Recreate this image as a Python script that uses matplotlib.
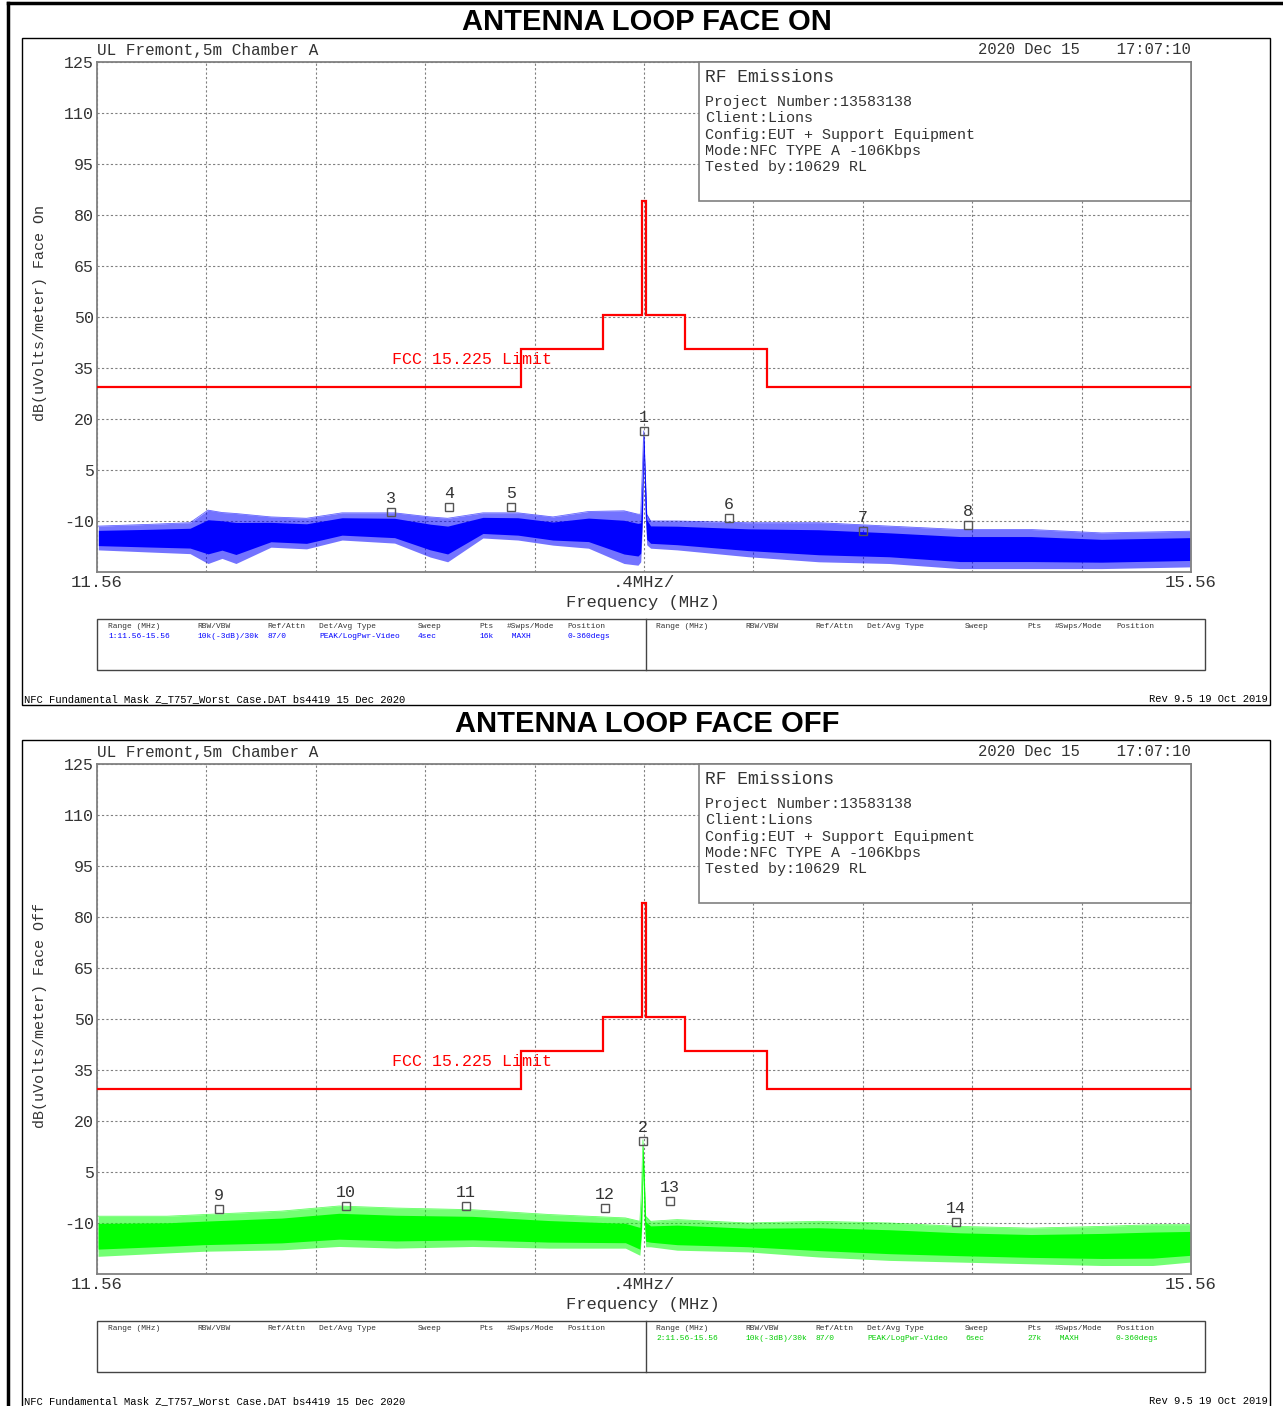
import numpy as np
import matplotlib
matplotlib.use("Agg")
import matplotlib.pyplot as plt
from matplotlib.patches import Rectangle

plt.rcParams['font.family'] = ['Liberation Mono', 'DejaVu Sans Mono']

W, H = 1283, 1406

# ---------------- data ----------------
f_start, f_stop = 11.56, 15.56

# FCC 15.225 limit mask (dBuV/m)
limit_edges = [11.56, 13.11, 13.41, 13.553, 13.567, 13.71, 14.01, 15.56]
limit_levels = [29.5, 40.5, 50.5, 84.0, 50.5, 40.5, 29.5]

# Face On trace envelope (blue): freq, upper, lower
on_f = [11.565, 11.746, 11.90, 11.966, 12.017, 12.068, 12.196, 12.326, 12.456,
        12.648, 12.778, 12.842, 12.971, 13.099, 13.227, 13.357, 13.487, 13.538,
        13.548, 13.554, 13.559, 13.564, 13.570, 13.584, 13.681, 13.94, 14.199,
        14.457, 14.715, 14.975, 15.233, 15.556]
on_hi = [-11.5, -11.0, -10.5, -6.8, -7.5, -7.8, -8.8, -9.2, -7.6,
         -7.6, -8.8, -9.2, -7.6, -7.6, -8.8, -7.2, -7.0, -8.0,
         -8.0, 5.0, 16.5, 6.0, -8.0, -10.0, -10.0, -10.5, -10.5,
         -11.5, -12.5, -12.5, -13.5, -13.0]
on_lo = [-18.5, -19.1, -19.6, -22.5, -21.0, -22.5, -17.7, -18.2, -15.6,
         -16.5, -20.6, -22.0, -15.0, -15.6, -17.1, -18.0, -22.5, -23.0,
         -22.0, -12.0, 10.0, -8.0, -17.0, -18.0, -18.5, -20.5, -22.0,
         -22.5, -24.0, -24.0, -24.0, -23.5]

# Face Off trace envelope (green)
off_f = [11.564, 11.816, 11.955, 12.235, 12.445, 12.653, 12.933, 13.213, 13.492,
         13.545, 13.551, 13.556, 13.561, 13.566, 13.584, 13.681, 13.94, 14.199,
         14.457, 14.715, 14.975, 15.233, 15.42, 15.556]
off_hi = [-8.0, -8.0, -7.5, -6.5, -5.0, -5.6, -6.1, -7.5, -8.5,
          -9.5, 0.0, 14.5, 4.0, -8.0, -9.5, -9.0, -10.0, -9.5,
          -10.0, -11.0, -11.5, -11.0, -10.5, -10.5]
off_lo = [-19.8, -18.8, -18.3, -17.9, -16.9, -17.4, -16.9, -17.4, -17.4,
          -19.5, -14.0, 5.0, -10.0, -17.0, -17.0, -18.0, -18.5, -20.0,
          -21.0, -21.5, -22.0, -22.5, -22.5, -21.5]

# markers: id, freq, level
on_mk_id = ['1', '3', '4', '5', '6', '7', '8']
on_mk_f = [13.56, 12.635, 12.847, 13.074, 13.871, 14.361, 14.745]
on_mk_db = [16.5, -7.4, -5.9, -5.9, -9.1, -12.9, -11.2]

off_mk_id = ['2', '9', '10', '11', '12', '13', '14']
off_mk_f = [13.556, 12.006, 12.47, 12.909, 13.417, 13.655, 14.70]
off_mk_db = [14.1, -5.9, -5.0, -5.0, -5.6, -3.5, -9.7]

y_ticks = [125, 110, 95, 80, 65, 50, 35, 20, 5, -10]

info_lines = ['Project Number:13583138', 'Client:Lions',
              'Config:EUT + Support Equipment', 'Mode:NFC TYPE A -106Kbps',
              'Tested by:10629 RL']

tbl_hdr = ['Range (MHz)', 'RBW/VBW', 'Ref/Attn', 'Det/Avg Type', 'Sweep',
           'Pts', '#Swps/Mode', 'Position']
tbl_on = ['1:11.56-15.56', '10k(-3dB)/30k', '87/0', 'PEAK/LogPwr-Video',
          '4sec', '16k', ' MAXH', '0-360degs']
tbl_off = ['2:11.56-15.56', '10k(-3dB)/30k', '87/0', 'PEAK/LogPwr-Video',
           '6sec', '27k', ' MAXH', '0-360degs']
col_left = [108, 197, 267, 319, 418, 479, 507, 567]
col_right = [656, 745, 815, 867, 965, 1027, 1055, 1116]

footer_l = 'NFC Fundamental Mask Z_T757_Worst Case.DAT bs4419 15 Dec 2020'
footer_r = 'Rev 9.5 19 Oct 2019'

# ---------------- figure ----------------
fig = plt.figure(figsize=(W / 100, H / 100), dpi=100)
fig.patch.set_facecolor('white')

GRAY = '#808080'
TXT = '#333333'


def px_axes(x0, y0, x1, y1):
    return fig.add_axes([x0 / W, 1 - y1 / H, (x1 - x0) / W, (y1 - y0) / H])


def draw_panel(off, f, hi, lo, color, mk_id, mk_f, mk_db):
    ax = px_axes(97, 62 + off, 1191, 572 + off)
    ax.set_facecolor('white')
    ax.set_xlim(f_start, f_stop)
    ax.set_ylim(-25, 125)
    ax.set_yticks(y_ticks)
    ax.set_yticklabels([str(v) for v in y_ticks], fontsize=12, color=TXT)
    xt = np.linspace(f_start, f_stop, 11)
    ax.set_xticks(xt)
    xl = [''] * 11
    xl[0], xl[5], xl[10] = '11.56', '.4MHz/', '15.56'
    ax.set_xticklabels(xl, fontsize=12.5, color=TXT)
    ax.tick_params(length=0, pad=2)
    ax.grid(True, color=GRAY, lw=0.8, ls=(0, (2, 2)))
    ax.set_axisbelow(True)
    for s in ax.spines.values():
        s.set_color(GRAY)
        s.set_linewidth(1.3)

    ax.stairs(limit_levels, limit_edges, baseline=None, color='#ff0000', lw=1.6, zorder=3)

    f = np.array(f)
    hi = np.array(hi)
    lo = np.array(lo)
    span = hi - lo
    ax.fill_between(f, lo, hi, color=color, alpha=0.55, lw=0, zorder=2)
    ax.fill_between(f, lo + 0.18 * span, hi - 0.18 * span, color=color, lw=0, zorder=2)
    ax.plot(f, hi, color=color, lw=0.6, alpha=0.6, zorder=2)

    ax.plot(mk_f, mk_db, ls='none', marker='s', ms=6, mfc='none', mec='#555555', mew=1.0, zorder=4)
    for t, xv, yv in zip(mk_id, mk_f, mk_db):
        ax.annotate(t, (xv, yv), xytext=(0, 9.5), textcoords='offset points',
                    ha='center', va='center', fontsize=12, color=TXT, zorder=4)
    return ax


draw_panel(0, on_f, on_hi, on_lo, '#0000ff', on_mk_id, on_mk_f, on_mk_db)
draw_panel(702, off_f, off_hi, off_lo, '#00ff00', off_mk_id, off_mk_f, off_mk_db)

# overlay in pixel coordinates for frames, boxes and page text
bg = fig.add_axes([0, 0, 1, 1])
bg.set_xlim(0, W)
bg.set_ylim(H, 0)
bg.axis('off')
bg.patch.set_alpha(0)
bg.set_zorder(10)

bg.plot([8, 8], [3, H], color='black', lw=2.5)
bg.plot([8, W], [3, 3], color='black', lw=2.5)

titles = ['ANTENNA LOOP FACE ON', 'ANTENNA LOOP FACE OFF']
ylabels = ['dB(uVolts/meter) Face On', 'dB(uVolts/meter) Face Off']
tables = [(tbl_on, col_left, '#0000ff'), (tbl_off, col_right, '#00cc00')]

for k, off in enumerate([0, 702]):
    bg.text(647, 22 + off, titles[k], ha='center', va='center', fontsize=21,
            fontweight='bold', family='Liberation Sans', color='black')
    bg.add_patch(Rectangle((22, 38 + off), 1248, 667, fill=False, ec='black', lw=1))

    bg.text(97, 50 + off, 'UL Fremont,5m Chamber A', ha='left', va='center',
            fontsize=11.5, color=TXT)
    bg.text(1191, 50 + off, '2020 Dec 15    17:07:10', ha='right', va='center',
            fontsize=11.2, color=TXT)

    # info box
    bg.add_patch(Rectangle((699, 62 + off), 492, 139, fc='white', ec=GRAY, lw=1.2))
    bg.text(705, 77 + off, 'RF Emissions', ha='left', va='center', fontsize=13, color=TXT)
    for i, line in enumerate(info_lines):
        bg.text(705, 102 + 16.3 * i + off, line, ha='left', va='center',
                fontsize=10.8, color=TXT)

    bg.text(392, 360 + off, 'FCC 15.225 Limit', ha='left', va='center',
            fontsize=12, color='#ff0000')
    bg.text(40, 313 + off, ylabels[k], rotation=90, ha='center', va='center',
            fontsize=10.8, color=TXT)
    bg.text(643, 603 + off, 'Frequency (MHz)', ha='center', va='center',
            fontsize=12.3, color=TXT)

    # settings table
    bg.add_patch(Rectangle((97, 619 + off), 1108, 51, fill=False, ec='#444444', lw=1))
    bg.plot([646, 646], [619 + off, 670 + off], color='#444444', lw=1)
    for cx_l, cx_r, h in zip(col_left, col_right, tbl_hdr):
        bg.text(cx_l, 626 + off, h, ha='left', va='center', fontsize=5.7, color=TXT)
        bg.text(cx_r, 626 + off, h, ha='left', va='center', fontsize=5.7, color=TXT)
    vals, cols, c = tables[k]
    for cx, v in zip(cols, vals):
        bg.text(cx, 637 + off, v, ha='left', va='center', fontsize=5.7, color=c)

    bg.text(24, 699 + off, footer_l, ha='left', va='center', fontsize=7.6, color='black')
    bg.text(1268, 699 + off, footer_r, ha='right', va='center', fontsize=7.6, color='black')

fig.savefig('out.png', dpi=100)
